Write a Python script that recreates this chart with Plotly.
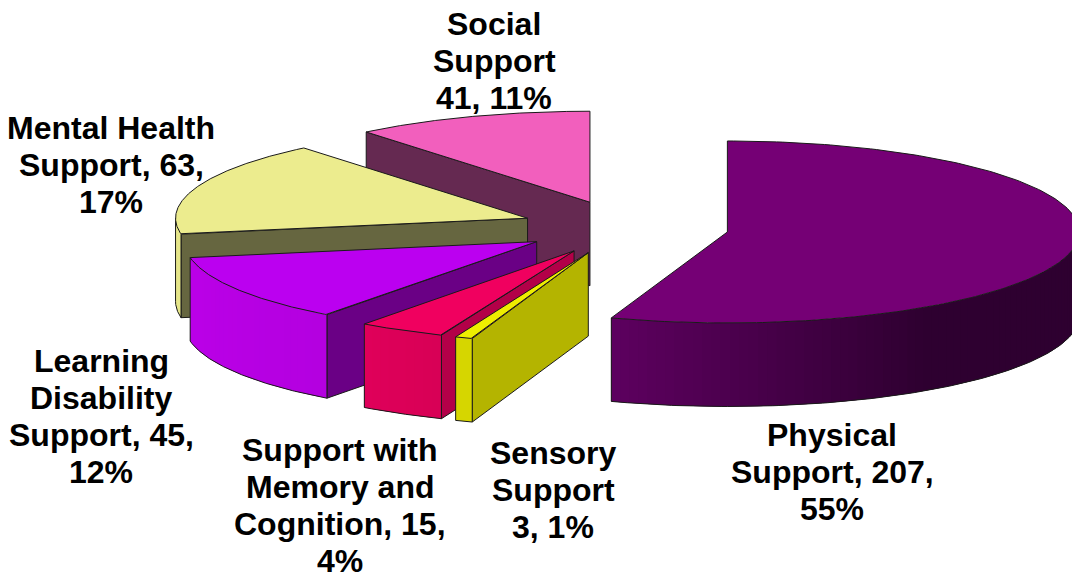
import numpy as np
import plotly.graph_objects as go

categories = ["Physical Support", "Sensory Support", "Support with Memory and Cognition",
              "Learning Disability Support", "Mental Health Support", "Social Support"]
values = [207, 3, 15, 45, 63, 41]
percents = [55, 1, 4, 12, 17, 11]

top_colors = ["#750075", "#EEEE00", "#F0005F", "#BB00F0", "#ECEC8E", "#F25FBD"]
rim_left = ["#5E0060", "#D6D600", "#E0005A", "#BB00E8", "#E6E68A", "#F25FBD"]
rim_right = ["#2E0030", "#D6D600", "#D80056", "#B400E0", "#E6E68A", "#F25FBD"]
rim_dark_until = [145.0, 0.0, 0.0, 0.0, 0.0, 0.0]
wall_colors = ["#3A003A", "#B4B400", "#B30048", "#6A0085", "#666640", "#652951"]

label_lines = [
    ["Physical", f"Support, {values[0]},", f"{percents[0]}%"],
    ["Sensory", "Support", f"{values[1]}, {percents[1]}%"],
    ["Support with", "Memory and", f"Cognition, {values[2]},", f"{percents[2]}%"],
    ["Learning", "Disability", f"Support, {values[3]},", f"{percents[3]}%"],
    ["Mental Health", f"Support, {values[4]},", f"{percents[4]}%"],
    ["Social", "Support", f"{values[5]}, {percents[5]}%"],
]
label_x = [832, 553, 340, 101, 111, 494]
label_y0 = [435, 453, 450, 361, 128, 24]
LINE_H = 37.0

CX, CY, A, B, DEPTH, EXPLODE = 625.0, 227.5, 352.0, 91.0, 83.5, 0.295
OUT = "#1a1a1a"


def hexmix(c1, c2, t):
    a = [int(c1[i:i + 2], 16) for i in (1, 3, 5)]
    b = [int(c2[i:i + 2], 16) for i in (1, 3, 5)]
    return "#%02x%02x%02x" % tuple(round(p + (q - p) * t) for p, q in zip(a, b))


def pt(theta_deg, r=1.0, ox=0.0, oy=0.0):
    t = np.radians(theta_deg)
    return ox + A * r * np.sin(t), oy - B * r * np.cos(t)


fig = go.Figure()


def poly(xs, ys, fill=None, line=OUT, width=1.0):
    fig.add_trace(go.Scatter(
        x=list(xs), y=list(ys), mode="lines",
        fill="toself" if fill else "none",
        fillcolor=fill,
        line=dict(color=line if line else fill, width=width),
        hoverinfo="skip", showlegend=False))


total = sum(values)
edges = np.concatenate([[0], np.cumsum(values)]) * 360.0 / total

# back-to-front painting order
order = [5, 4, 3, 2, 1, 0]
for i in order:
    a0, a1 = edges[i], edges[i + 1]
    mid = (a0 + a1) / 2
    ox = CX + A * EXPLODE * np.sin(np.radians(mid))
    oy = CY - B * EXPLODE * np.cos(np.radians(mid))

    # cut walls facing the viewer
    if np.sin(np.radians(a0)) < -1e-6:
        ex, ey = pt(a0, 1, ox, oy)
        poly([ox, ex, ex, ox, ox], [oy, ey, ey + DEPTH, oy + DEPTH, oy], wall_colors[i])
    if np.sin(np.radians(a1)) > 1e-6:
        ex, ey = pt(a1, 1, ox, oy)
        poly([ox, ex, ex, ox, ox], [oy, ey, ey + DEPTH, oy + DEPTH, oy], wall_colors[i])

    # visible outer rim: the part of the arc on the front half
    r0, r1 = max(a0, 90.0), min(a1, 270.0)
    if r1 > r0:
        step = 1.5
        n = max(1, int((r1 - r0) / step))
        th = np.linspace(r0, r1, n + 1)
        for j in range(n):
            # each band overlaps the next one, so no seams show between them
            span = np.linspace(th[j], th[min(j + 2, n)], 5)
            xs, ys = pt(span, 1, ox, oy)
            lo = max(rim_dark_until[i], r0)
            tt = 1.0 - np.clip((th[j] - lo) / max(r1 - lo, 1e-6), 0, 1)
            c = hexmix(rim_left[i], rim_right[i], tt)
            poly(list(xs) + list(xs[::-1]) + [xs[0]],
                 list(ys) + list(ys[::-1] + DEPTH) + [ys[0]], c, line=c, width=0)
        arc = np.linspace(r0, r1, 120)
        xa, ya = pt(arc, 1, ox, oy)
        poly(xa, ya + DEPTH)
        poly([xa[0], xa[0]], [ya[0], ya[0] + DEPTH])
        poly([xa[-1], xa[-1]], [ya[-1], ya[-1] + DEPTH])

    # top face
    arc = np.linspace(a0, a1, 200)
    xa, ya = pt(arc, 1, ox, oy)
    poly([ox] + list(xa) + [ox], [oy] + list(ya) + [oy], top_colors[i])

annotations = []
for lines, lx, ly in zip(label_lines, label_x, label_y0):
    for k, text in enumerate(lines):
        annotations.append(dict(
            x=lx, y=ly + k * LINE_H, xref="x", yref="y", text=f"<b>{text}</b>", showarrow=False,
            xanchor="center", yanchor="middle",
            font=dict(family="Liberation Sans, Arial, sans-serif", size=32, color="#000000")))

fig.update_layout(
    width=1072, height=574, margin=dict(l=0, r=0, t=0, b=0),
    paper_bgcolor="#ffffff", plot_bgcolor="#ffffff", showlegend=False,
    xaxis=dict(range=[0, 1072], visible=False, fixedrange=True),
    yaxis=dict(range=[574, 0], visible=False, fixedrange=True),
    annotations=annotations,
)

fig.write_html("out.html", config={"displayModeBar": False},
               post_script="document.body.style.margin='0';document.documentElement.style.overflow='hidden';")
